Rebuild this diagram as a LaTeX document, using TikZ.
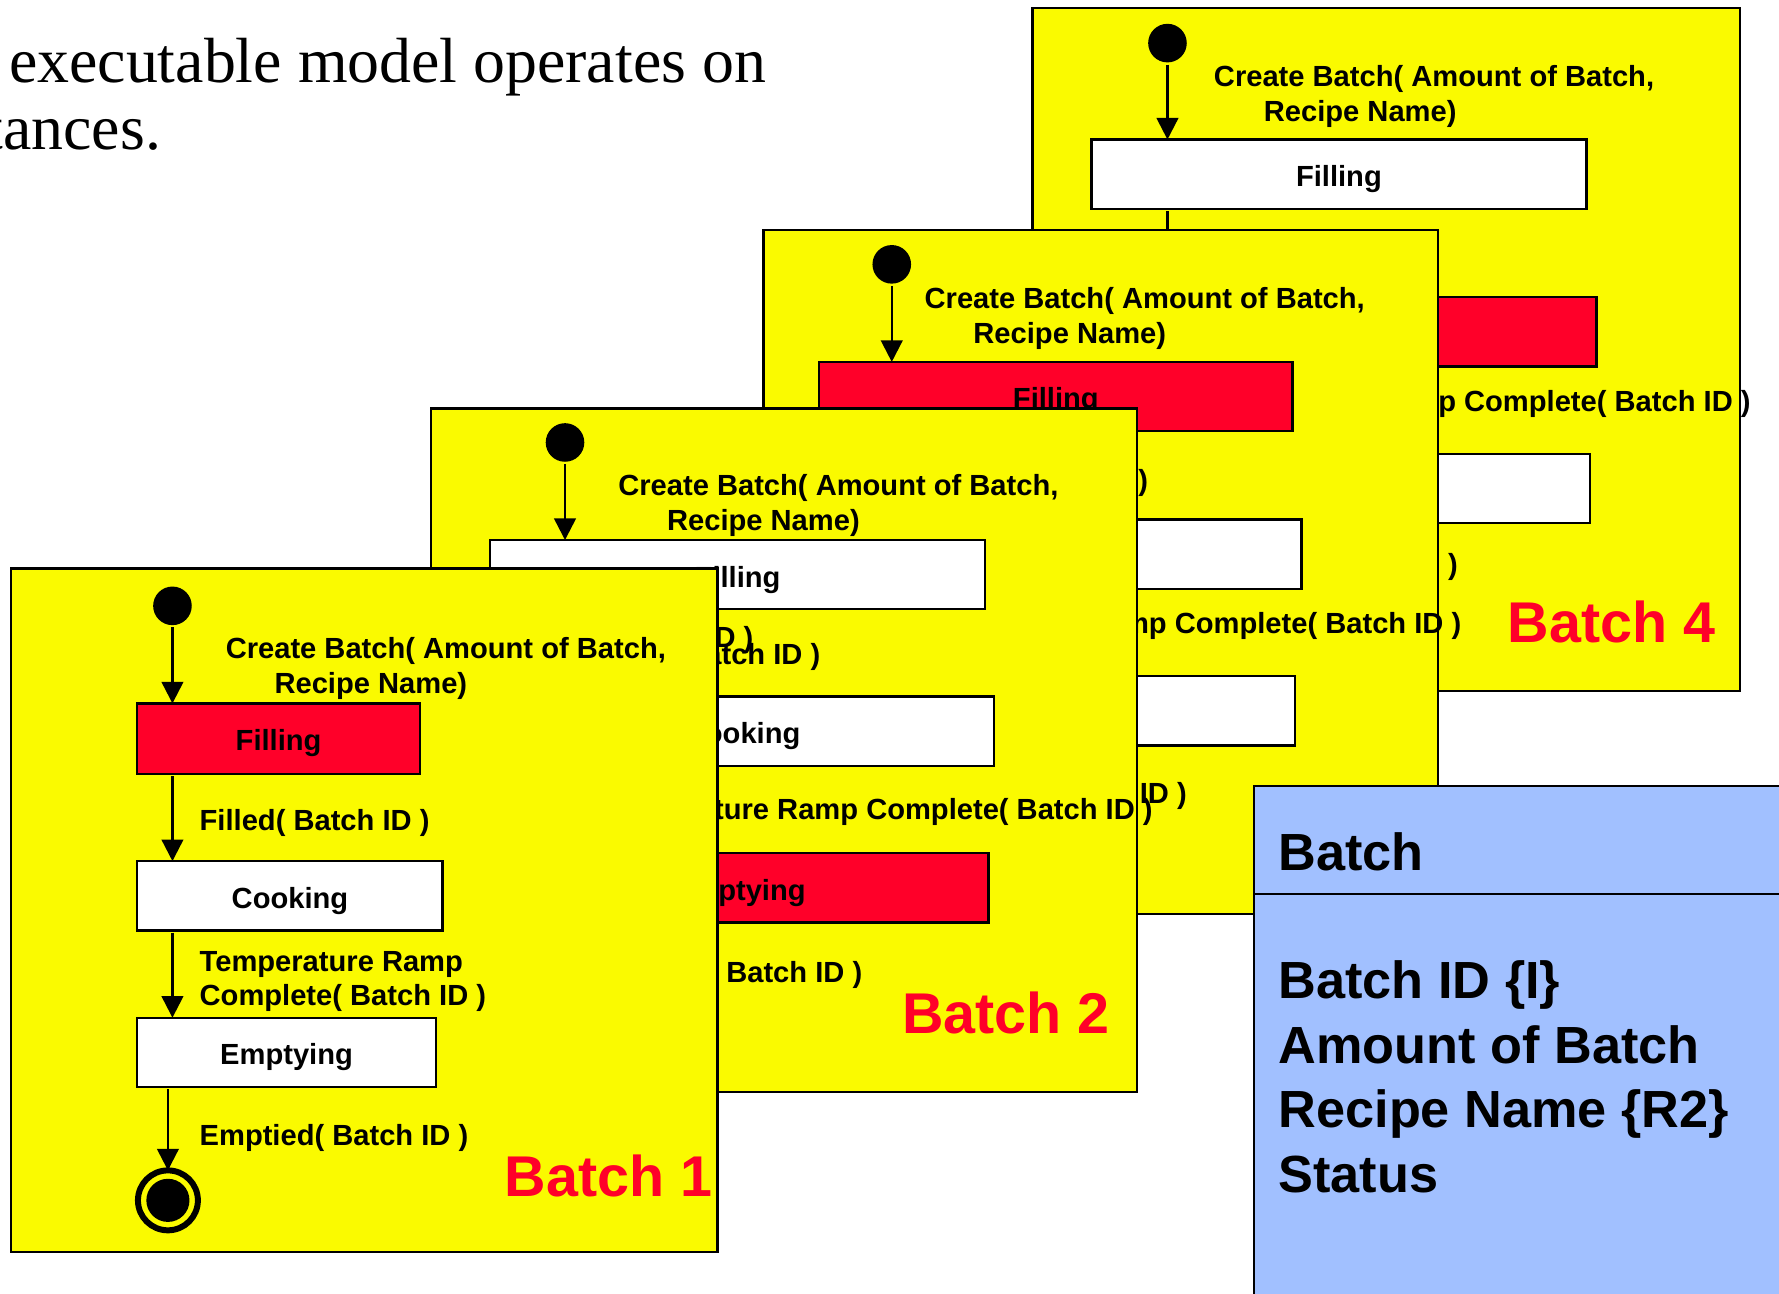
\documentclass[tikz,border=0pt]{standalone}
\usepackage{fontspec}
\setmainfont{Liberation Serif}
\setsansfont{Liberation Sans}
\usetikzlibrary{arrows.meta}

\definecolor{panelyellow}{RGB}{250,250,0}
\definecolor{activered}{RGB}{255,0,41}
\definecolor{classblue}{RGB}{161,192,255}

\newcommand\lblfont{\sffamily\bfseries\fontsize{7.3pt}{8.8pt}\selectfont}
\newcommand\namefont{\sffamily\bfseries\fontsize{14.4pt}{17pt}\selectfont}
\newcommand\classfont{\sffamily\bfseries\fontsize{13.1pt}{16pt}\selectfont}
\newcommand\titlefont{\rmfamily\fontsize{16pt}{19pt}\selectfont}

\tikzset{
  every node/.style={inner sep=0pt, outer sep=0pt},
  panel/.style={draw=black, fill=panelyellow, line width=0.55pt, anchor=north west,
    minimum height=6.02cm},
  stbox/.style={draw=black, line width=0.6pt, anchor=north west, minimum height=0.61cm,
    font=\lblfont, text height=0.83em, text depth=0.21em},
  lbl/.style={font=\lblfont},
  batchname/.style={font=\namefont, text=activered},
  initdot/.style={circle, fill=black, minimum size=0.34cm},
  finalring/.style={circle, draw=black, line width=1.5pt, fill=panelyellow, minimum size=0.528cm},
  finaldot/.style={circle, fill=black, minimum size=0.38cm},
  trans/.style={-{Triangle[width=0.19cm,length=0.19cm]}, line width=0.6pt, shorten <=0.02cm},
  classbox/.style={draw=black, fill=classblue, line width=0.6pt, anchor=north west},
  classtext/.style={font=\classfont, anchor=base west},
  titletext/.style={font=\titlefont},
}

\begin{document}
\begin{tikzpicture}[x=0.01cm, y=-0.01cm]
\useasboundingbox (0,0) rectangle (1568,1140);

% heading text
\node[titletext, anchor=base west] (title1) at (8,73) {executable model operates on};
\node[titletext, anchor=base east] (title2) at (142,132) {tances.};

% ---- Batch 4 (back) ----
\node[panel, minimum width=6.23cm] (b4panel) at (910,7) {};
\node[initdot] (b4init) at (1029,38) {};
\node[lbl, anchor=base west] (b4create) at (1070,76) {Create Batch( Amount of Batch,};
\node[lbl, anchor=base west] (b4recipe) at (1114,107) {Recipe Name)};
\node[stbox, fill=white, minimum width=4.36cm] (b4fill) at (962,123) {Filling};
\node[stbox, fill=activered, minimum width=4.45cm] (b4cook) at (962,262) {Cooking};
\node[stbox, fill=white, minimum width=4.39cm] (b4empty) at (962,400) {Emptying};
\node[lbl, anchor=base east] (b4temp) at (1543,363) {Temperature Ramp Complete( Batch ID )};
\node[lbl, anchor=base east] (b4emptied) at (1285,506) {Emptied( Batch ID )};
\node[batchname, anchor=base east] (b4name) at (1512,566) {Batch 4};
\draw[trans] (b4init) -- (b4init |- b4fill.north);
\draw[trans] (b4init |- b4fill.south) -- (b4init |- b4cook.north);

% ---- Batch 3 ----
\node[panel, minimum width=5.94cm] (b3panel) at (673,203) {};
\node[initdot] (b3init) at (786,233) {};
\node[lbl, anchor=base west] (b3create) at (815,272) {Create Batch( Amount of Batch,};
\node[lbl, anchor=base west] (b3recipe) at (858,303) {Recipe Name)};
\node[stbox, fill=activered, minimum width=4.17cm] (b3fill) at (722,319) {Filling};
\node[stbox, fill=white, minimum width=4.25cm] (b3cook) at (722,458) {Cooking};
\node[stbox, fill=white, minimum width=4.19cm] (b3empty) at (722,596) {Emptying};
\node[lbl, anchor=base east] (b3filled) at (1012,432) {Filled( Batch ID )};
\node[lbl, anchor=base east] (b3temp) at (1288,558) {Temperature Ramp Complete( Batch ID )};
\node[lbl, anchor=base east] (b3emptied) at (1046,708) {Emptied( Batch ID )};
\draw[trans] (b3init) -- (b3init |- b3fill.north);

% ---- Batch 2 ----
\node[panel, minimum width=6.22cm] (b2panel) at (380,360) {};
\node[initdot] (b2init) at (498,390) {};
\node[lbl, anchor=base west] (b2create) at (545,437) {Create Batch( Amount of Batch,};
\node[lbl, anchor=base west] (b2recipe) at (588,468) {Recipe Name)};
\node[stbox, fill=white, minimum width=4.36cm] (b2fill) at (432,476) {Filling};
\node[stbox, fill=white, minimum width=4.44cm] (b2cook) at (432,614) {Cooking};
\node[stbox, fill=activered, minimum width=4.39cm] (b2empty) at (432,752) {Emptying};
\node[lbl, anchor=base east] (b2filledA) at (664,571) {Filled( Batch ID )};
\node[lbl, anchor=base east] (b2filledB) at (723,586) {Filled( Batch ID )};
\node[lbl, anchor=base east] (b2temp) at (1016,722) {Temperature Ramp Complete( Batch ID )};
\node[lbl, anchor=base east] (b2emptied) at (760,866) {Emptied( Batch ID )};
\node[batchname, anchor=base east] (b2name) at (978,911) {Batch 2};
\draw[trans] (b2init) -- (b2init |- b2fill.north);

% ---- Batch 1 (front) ----
\node[panel, minimum width=6.22cm] (b1panel) at (10,501) {};
\node[initdot] (b1init) at (152,534) {};
\node[lbl, anchor=base west] (b1create) at (199,580) {Create Batch( Amount of Batch,};
\node[lbl, anchor=base west] (b1recipe) at (242,611) {Recipe Name)};
\node[stbox, fill=activered, minimum width=2.49cm, minimum height=0.62cm] (b1fill) at (121,620) {Filling};
\node[stbox, fill=white, minimum width=2.69cm] (b1cook) at (121,759) {Cooking};
\node[stbox, fill=white, minimum width=2.63cm] (b1empty) at (121,897) {Emptying};
\node[finalring] (b1final) at (148,1058) {};
\node[finaldot] (b1finaldot) at (b1final.center) {};
\node[lbl, anchor=base west] (b1filled) at (176,732) {Filled( Batch ID )};
\node[lbl, anchor=base west] (b1tempA) at (176,856) {Temperature Ramp};
\node[lbl, anchor=base west] (b1tempB) at (176,886) {Complete( Batch ID )};
\node[lbl, anchor=base west] (b1emptied) at (176,1010) {Emptied( Batch ID )};
\node[batchname, anchor=base east] (b1name) at (628,1055) {Batch 1};
\draw[trans] (b1init) -- (b1init |- b1fill.north);
\draw[trans] (b1init |- b1fill.south) -- (b1init |- b1cook.north);
\draw[trans] (b1init |- b1cook.south) -- (b1init |- b1empty.north);
\draw[trans] (b1final |- b1empty.south) -- (b1final.north);

% ---- Batch class ----
\node[classbox, minimum width=4.9cm, minimum height=4.8cm] (cls) at (1105,693) {};
\coordinate (divL) at (1105,788);
\coordinate (divR) at (1590,788);
\draw[line width=0.6pt] (divL) -- (divR);
\node[classtext] (clsname) at (1127,767) {Batch};
\node[classtext] (attr1) at (1127,880) {Batch ID \{I\}};
\node[classtext] (attr2) at (1127,937) {Amount of Batch};
\node[classtext] (attr3) at (1127,994) {Recipe Name \{R2\}};
\node[classtext] (attr4) at (1127,1051) {Status};
\end{tikzpicture}
\end{document}
